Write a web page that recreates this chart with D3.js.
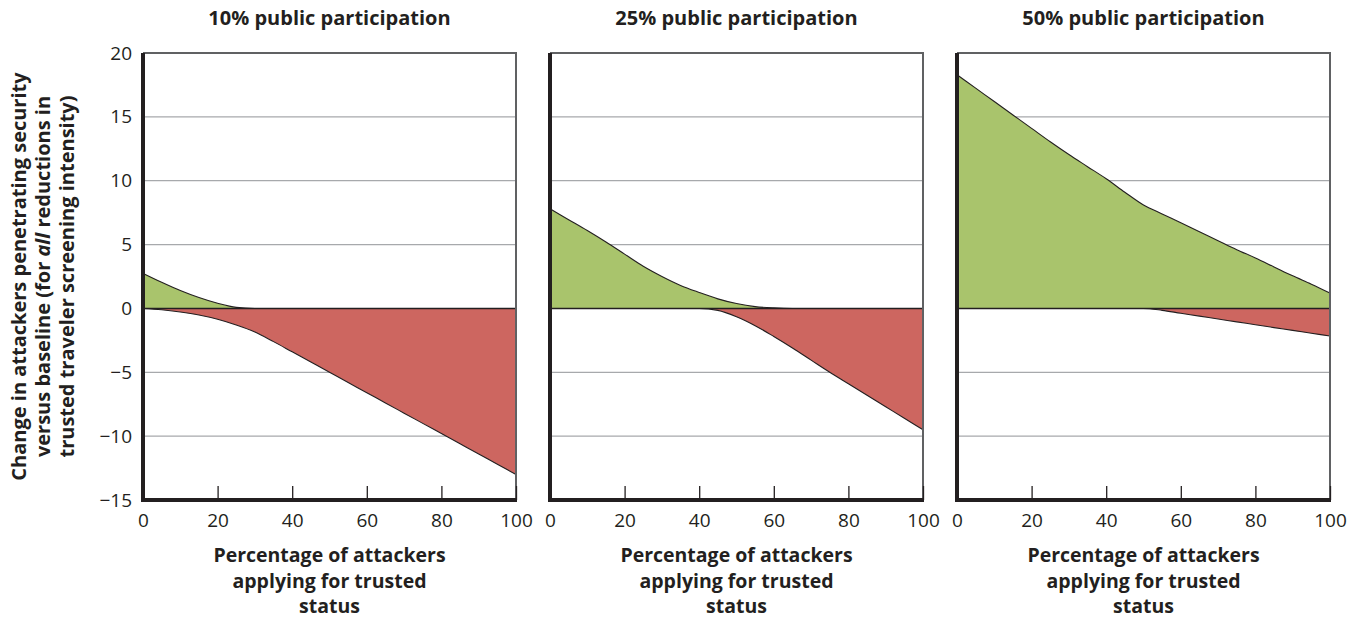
<!DOCTYPE html>
<html>
<head>
<meta charset="utf-8">
<script src="https://cdn.jsdelivr.net/npm/d3@7"></script>
<style>
  html, body { margin: 0; padding: 0; background: #ffffff; }
  svg { display: block; font-family: "Open Sans", "Noto Sans", sans-serif; }
</style>
</head>
<body>
<svg id="chart" width="1348" height="619"></svg>
<script>
// Percentage of attackers applying for trusted status (x values)
const attackerShare = [0, 5, 10, 15, 20, 25, 30, 35, 40, 45, 50, 55, 60, 65, 70, 75, 80, 85, 90, 95, 100];

// Increase (green) and decrease (red) in attackers penetrating security, per public participation level
const gain10 = [2.75, 2.05, 1.4, 0.85, 0.4, 0.08, 0, 0, 0, 0, 0, 0, 0, 0, 0, 0, 0, 0, 0, 0, 0];
const loss10 = [0, -0.1, -0.28, -0.52, -0.85, -1.3, -1.85, -2.6, -3.4, -4.2, -5.0, -5.8, -6.6, -7.4, -8.2, -9.0, -9.8, -10.6, -11.4, -12.2, -13.0];

const gain25 = [7.8, 6.95, 6.1, 5.2, 4.25, 3.3, 2.5, 1.8, 1.25, 0.75, 0.38, 0.14, 0.04, 0, 0, 0, 0, 0, 0, 0, 0];
const loss25 = [0, 0, 0, 0, 0, 0, 0, 0, 0, -0.15, -0.65, -1.35, -2.2, -3.1, -4.05, -5.0, -5.9, -6.8, -7.7, -8.6, -9.5];

const gain50 = [18.3, 17.25, 16.2, 15.15, 14.1, 13.05, 12.05, 11.1, 10.15, 9.1, 8.1, 7.4, 6.7, 6.0, 5.3, 4.6, 3.95, 3.25, 2.55, 1.9, 1.2];
const loss50 = [0, 0, 0, 0, 0, 0, 0, 0, 0, 0, 0, -0.15, -0.38, -0.6, -0.83, -1.05, -1.28, -1.5, -1.72, -1.94, -2.16];

const panelTitles = ["10% public participation", "25% public participation", "50% public participation"];
const xTicks = [0, 20, 40, 60, 80, 100];
const yTicks = [-15, -10, -5, 0, 5, 10, 15, 20];
const gridValues = [-10, -5, 5, 10, 15];

const panels = [
  { title: panelTitles[0], gain: gain10, loss: loss10 },
  { title: panelTitles[1], gain: gain25, loss: loss25 },
  { title: panelTitles[2], gain: gain50, loss: loss50 }
];

const ink = "#231f20";
const green = "#a9c46c";
const red = "#cd6660";
const gridGray = "#a7a9ac";
const frameGray = "#606163";

const lefts = [143, 550, 957];
const plotW = 373;
const plotTop = 53, plotBottom = 500;

const svg = d3.select("#chart");

const y = d3.scaleLinear().domain([-15, 20]).range([plotBottom, plotTop]);

panels.forEach((p, i) => {
  const x = d3.scaleLinear().domain([0, 100]).range([lefts[i], lefts[i] + plotW]);
  const g = svg.append("g");
  const pts = attackerShare.map((v, k) => ({ x: v, gain: p.gain[k], loss: p.loss[k] }));

  // horizontal grid
  g.selectAll("line.grid").data(gridValues).join("line")
    .attr("class", "grid")
    .attr("x1", x(0)).attr("x2", x(100))
    .attr("y1", d => y(d)).attr("y2", d => y(d))
    .attr("stroke", gridGray).attr("stroke-width", 1.3);

  const curve = d3.curveMonotoneX;

  // filled regions
  g.append("path").datum(pts)
    .attr("fill", green)
    .attr("d", d3.area().curve(curve).x(d => x(d.x)).y0(y(0)).y1(d => y(d.gain)));
  g.append("path").datum(pts)
    .attr("fill", red)
    .attr("d", d3.area().curve(curve).x(d => x(d.x)).y0(y(0)).y1(d => y(d.loss)));

  // outline curves
  g.append("path").datum(pts)
    .attr("fill", "none").attr("stroke", ink).attr("stroke-width", 1.1)
    .attr("d", d3.line().curve(curve).x(d => x(d.x)).y(d => y(d.gain)));
  g.append("path").datum(pts)
    .attr("fill", "none").attr("stroke", ink).attr("stroke-width", 1.1)
    .attr("d", d3.line().curve(curve).x(d => x(d.x)).y(d => y(d.loss)));

  // zero line
  g.append("line")
    .attr("x1", x(0)).attr("x2", x(100))
    .attr("y1", y(0)).attr("y2", y(0))
    .attr("stroke", ink).attr("stroke-width", 1.6);

  // top and right frame
  g.append("path")
    .attr("d", `M${x(0)},${y(20)}H${x(100)}V${y(-15)}`)
    .attr("fill", "none").attr("stroke", frameGray).attr("stroke-width", 2);

  // x axis with inward ticks
  const xAxis = d3.axisBottom(x).tickValues(xTicks).tickSizeInner(-14).tickSizeOuter(0).tickPadding(14);
  const xg = g.append("g").attr("transform", `translate(0,${plotBottom})`).call(xAxis);
  xg.select(".domain").remove();
  xg.attr("font-family", null);
  xg.selectAll(".tick line").attr("stroke", ink).attr("stroke-width", 1.3);
  xg.selectAll(".tick text").attr("fill", ink).style("font-size", "19px");

  // thick left and bottom axis lines
  g.append("path")
    .attr("d", `M${x(0)},${y(20)}V${y(-15)}H${x(100) + 1}`)
    .attr("fill", "none").attr("stroke", ink).attr("stroke-width", 4)
    .attr("stroke-linejoin", "miter");

  if (i === 0) {
    const yAxis = d3.axisLeft(y).tickValues(yTicks).tickSize(0).tickPadding(11);
    const yg = g.append("g").attr("transform", `translate(${x(0)},0)`).call(yAxis);
    yg.select(".domain").remove();
    yg.attr("font-family", null);
    yg.selectAll(".tick text").attr("fill", ink).style("font-size", "19px");
  }

  const cx = x(50);
  // panel title
  g.append("text")
    .attr("x", cx).attr("y", 25)
    .attr("text-anchor", "middle")
    .attr("fill", ink)
    .style("font-size", "20px").style("font-weight", "bold")
    .text(p.title);

  // x axis title
  const xt = g.append("text")
    .attr("text-anchor", "middle")
    .attr("fill", ink)
    .style("font-size", "19.5px").style("font-weight", "bold");
  ["Percentage of attackers", "applying for trusted", "status"].forEach((line, k) => {
    xt.append("tspan").attr("x", cx).attr("y", 562 + k * 25.5).text(line);
  });
});

// y axis title (three rotated lines)
const yMid = (plotTop + plotBottom) / 2;
const yTitle = svg.append("g")
  .attr("fill", ink)
  .style("font-size", "20px").style("font-weight", "bold");
const baselines = [26, 50, 74];
yTitle.append("text").attr("transform", `translate(${baselines[0]},${yMid}) rotate(-90)`)
  .attr("text-anchor", "middle").text("Change in attackers penetrating security");
const t2 = yTitle.append("text").attr("transform", `translate(${baselines[1]},${yMid}) rotate(-90)`)
  .attr("text-anchor", "middle");
t2.append("tspan").text("versus baseline (for ");
t2.append("tspan").style("font-style", "italic").text("all");
t2.append("tspan").text(" reductions in");
yTitle.append("text").attr("transform", `translate(${baselines[2]},${yMid}) rotate(-90)`)
  .attr("text-anchor", "middle").text("trusted traveler screening intensity)");
</script>
</body>
</html>
